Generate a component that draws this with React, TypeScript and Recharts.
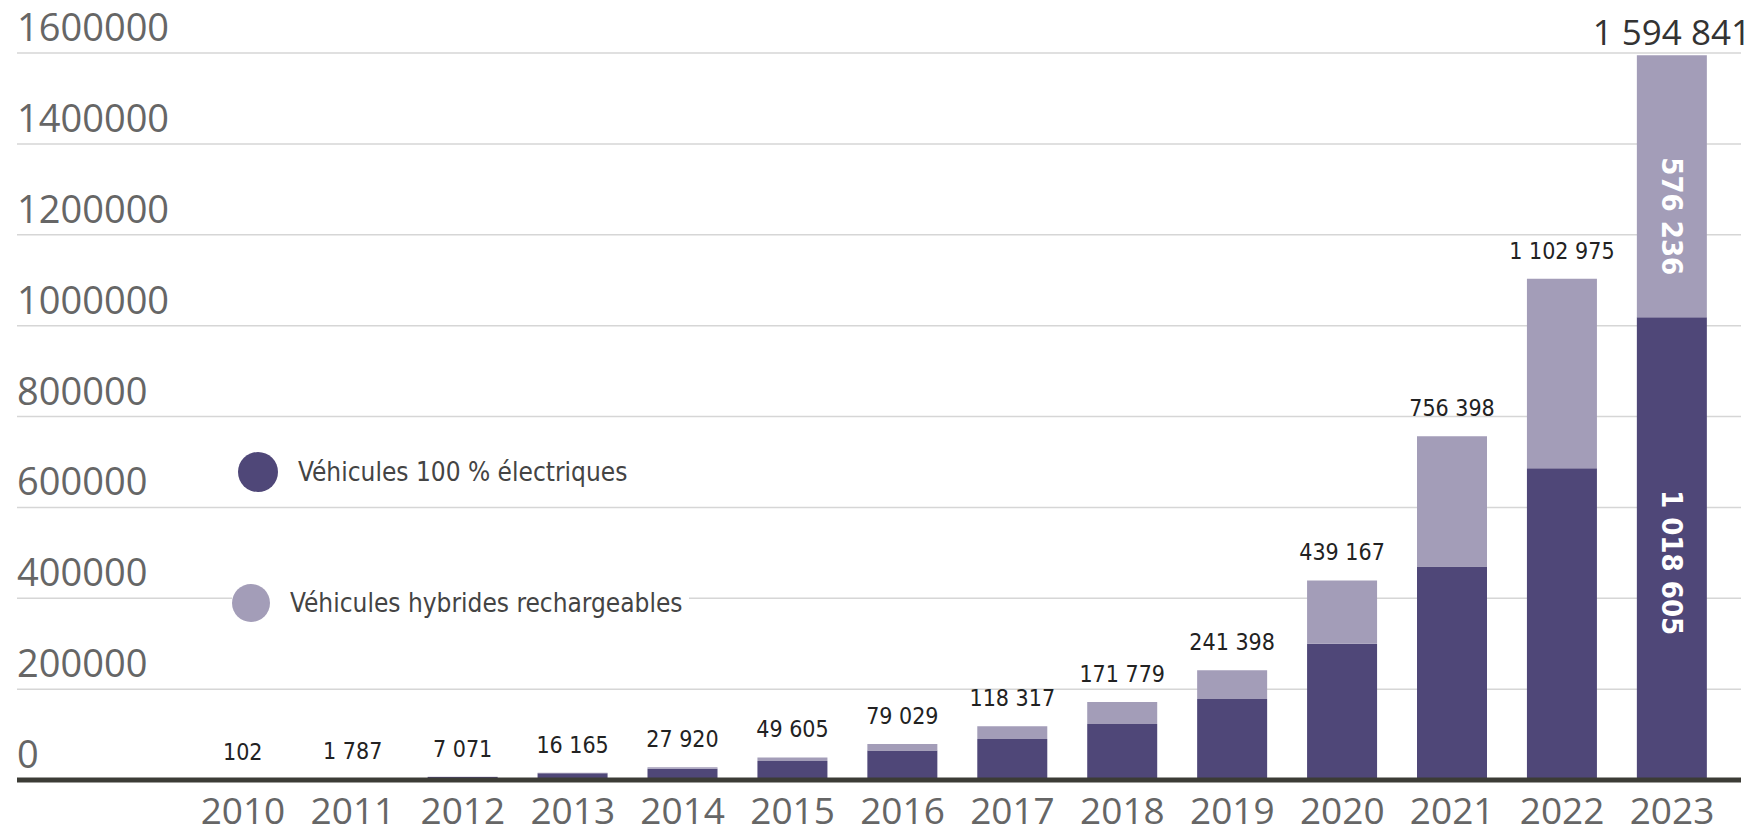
import React from 'react';
import { BarChart, Bar, XAxis, YAxis, CartesianGrid, ReferenceLine, LabelList } from 'recharts';

document.body.style.margin = '0';

// stock of plug-in vehicles per year
const years = ['2010', '2011', '2012', '2013', '2014', '2015', '2016', '2017', '2018', '2019', '2020', '2021', '2022', '2023'];
const electric = [102, 1700, 6500, 15000, 25000, 42000, 65000, 90000, 123000, 178000, 300000, 470000, 686000, 1018605];
const hybrid = [0, 87, 571, 1165, 2920, 7605, 14029, 28317, 48779, 63398, 139167, 286398, 416975, 576236];
const totals = [102, 1787, 7071, 16165, 27920, 49605, 79029, 118317, 171779, 241398, 439167, 756398, 1102975, 1594841];
const yTicks = [0, 200000, 400000, 600000, 800000, 1000000, 1200000, 1400000, 1600000];

const LAST = years.length - 1;

// totals go on top of whichever segment is the top of the stack;
// the white in-bar values are only shown for the last year
const data = years.map((year, i) => ({
  year,
  electric: electric[i],
  hybrid: hybrid[i],
  totalOnEv: hybrid[i] === 0 ? totals[i] : null,
  totalOnHybrid: hybrid[i] > 0 ? totals[i] : null,
  evInside: i === LAST ? electric[i] : null,
  hybridInside: i === LAST ? hybrid[i] : null,
}));

const DARK = '#4f4778';
const LIGHT = '#a39db8';
const NARROW = '"Liberation Sans Narrow", "DejaVu Sans Condensed", "Roboto", sans-serif';
const AXIS_FONT = '"Open Sans", "Noto Sans", sans-serif';
const PLOT_LEFT = 17;

const fmt = (n: number) => String(n).replace(/\B(?=(\d{3})+(?!\d))/g, ' ');

const YTick = ({ y, payload }: any) => (
  <text x={PLOT_LEFT} y={y - 12} textAnchor="start" fontSize={38} fontFamily={AXIS_FONT} fill="#666">
    {payload.value}
  </text>
);

const XTick = ({ x, y, payload }: any) => (
  <text x={x} y={y + 44} textAnchor="middle" fontSize={37} fontFamily={AXIS_FONT} fill="#666">
    {payload.value}
  </text>
);

const box = (p: any) => {
  const vb = p.viewBox || {};
  return {
    x: Number(p.x ?? vb.x),
    y: Number(p.y ?? vb.y),
    width: Number(p.width ?? vb.width),
    height: Number(p.height ?? vb.height),
  };
};

const TotalLabel = (props: any) => {
  if (props.value == null) return null;
  const { x, y, width } = box(props);
  const big = props.value === totals[LAST];
  return (
    <text
      x={x + width / 2}
      y={y - (big ? 10 : 20)}
      textAnchor="middle"
      fontSize={big ? 35 : 23}
      fontFamily={big ? AXIS_FONT : NARROW}
      fill={big ? '#333' : '#222'}
    >
      {fmt(props.value)}
    </text>
  );
};

const insideLabel = (shift: number) => (props: any) => {
  if (props.value == null) return null;
  const { x, y, width, height } = box(props);
  return (
    <text
      transform={`translate(${x + width / 2}, ${y + height / 2 + shift}) rotate(90)`}
      textAnchor="middle"
      dominantBaseline="central"
      fontSize={29}
      fontWeight="bold"
      fontFamily={NARROW}
      fill="#ffffff"
    >
      {fmt(props.value)}
    </text>
  );
};

const legendItem = (color: string, label: string, left: number, top: number, r: number) => (
  <div
    style={{
      position: 'absolute',
      left,
      top,
      display: 'flex',
      alignItems: 'center',
      background: '#fff',
      padding: '1px 6px 1px 0',
    }}
  >
    <div style={{ width: r * 2, height: r * 2, borderRadius: '50%', background: color }} />
    <span style={{ marginLeft: 20, fontFamily: NARROW, fontSize: 26, color: '#444' }}>{label}</span>
  </div>
);

export default function App() {
  return (
    <div style={{ position: 'relative', width: 1753, height: 836, background: '#fff', overflow: 'hidden' }}>
      <BarChart
        width={1753}
        height={836}
        data={data}
        margin={{ top: 53, right: 12, bottom: 0, left: PLOT_LEFT - 1 }}
        barCategoryGap="18%"
      >
        <CartesianGrid vertical={false} stroke="#d6d6d6" strokeWidth={1.5} />
        <XAxis
          dataKey="year"
          axisLine={false}
          tickLine={false}
          tickSize={0}
          tickMargin={0}
          height={56}
          interval={0}
          padding={{ left: 171, right: 14 }}
          tick={<XTick />}
        />
        <YAxis
          width={1}
          domain={[0, 1600000]}
          ticks={yTicks}
          axisLine={false}
          tickLine={false}
          tick={<YTick />}
        />
        <Bar dataKey="electric" stackId="a" fill={DARK} isAnimationActive={false}>
          <LabelList dataKey="evInside" content={insideLabel(14)} />
          <LabelList dataKey="totalOnEv" content={TotalLabel} />
        </Bar>
        <Bar dataKey="hybrid" stackId="a" fill={LIGHT} isAnimationActive={false}>
          <LabelList dataKey="hybridInside" content={insideLabel(30)} />
          <LabelList dataKey="totalOnHybrid" content={TotalLabel} />
        </Bar>
        <ReferenceLine y={0} stroke="#3c3c36" strokeWidth={5} />
      </BarChart>
      {legendItem(DARK, 'Véhicules 100 % électriques', 238, 451, 20)}
      {legendItem(LIGHT, 'Véhicules hybrides rechargeables', 232, 583, 19)}
    </div>
  );
}
